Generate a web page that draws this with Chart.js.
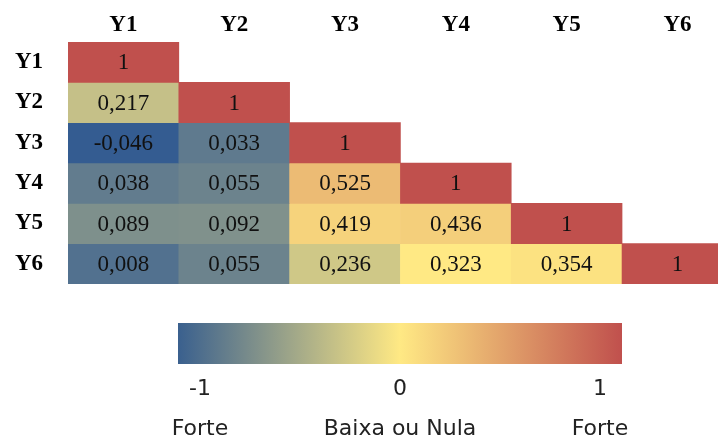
<!DOCTYPE html>
<html><head><meta charset="utf-8">
<script src="https://cdn.jsdelivr.net/npm/chart.js@4/dist/chart.umd.min.js"></script>
<style>html,body{margin:0;padding:0;background:#fff;overflow:hidden}canvas{display:block}</style>
</head><body>
<canvas id="heat" width="718" height="300"></canvas>
<canvas id="bar" width="718" height="136"></canvas>
<script>
// ---- data ----
const variables = ['Y1','Y2','Y3','Y4','Y5','Y6'];
const corrY1 = [1];
const corrY2 = [0.217, 1];
const corrY3 = [-0.046, 0.033, 1];
const corrY4 = [0.038, 0.055, 0.525, 1];
const corrY5 = [0.089, 0.092, 0.419, 0.436, 1];
const corrY6 = [0.008, 0.055, 0.236, 0.323, 0.354, 1];
const colorbarTicks = [-1, 0, 1];
const colorbarNotes = ['Forte', 'Baixa ou Nula', 'Forte'];

const rows = [corrY1, corrY2, corrY3, corrY4, corrY5, corrY6];

// ---- colour scale (3-colour: min -> median -> max) ----
const BLUE = [52, 92, 145], YELLOW = [255, 233, 132], RED = [192, 80, 77];
const allVals = rows.flat().slice().sort((a, b) => a - b);
const vMin = allVals[0], vMax = allVals[allVals.length - 1];
const vMid = allVals[Math.floor(allVals.length / 2)];
function mix(a, b, t) { return 'rgb(' + a.map((c, i) => Math.round(c + (b[i] - c) * t)).join(',') + ')'; }
function colorFor(v) {
  if (v <= vMid) return mix(BLUE, YELLOW, (v - vMin) / (vMid - vMin));
  return mix(YELLOW, RED, (v - vMid) / (vMax - vMid));
}
function fmt(v) { return String(v).replace('.', ','); }

Chart.defaults.animation = false;

const cellText = {
  id: 'cellText',
  afterDatasetsDraw(chart) {
    const ctx = chart.ctx;
    ctx.save();
    ctx.font = '23px "Liberation Serif", "Times New Roman", serif';
    ctx.fillStyle = '#111';
    ctx.textAlign = 'center';
    ctx.textBaseline = 'middle';
    chart.data.datasets.forEach((ds, i) => {
      chart.getDatasetMeta(i).data.forEach((el, j) => {
        const p = el.getProps(['x', 'y', 'base']);
        ctx.fillText(fmt(ds.data[j].v), p.x, (p.y + p.base) / 2 + 1);
      });
    });
    ctx.restore();
  }
};

const serifBold = { family: '"Liberation Serif", "Times New Roman", serif', size: 23, weight: 'bold' };

new Chart(document.getElementById('heat'), {
  type: 'bar',
  data: {
    datasets: rows.map((row, i) => ({
      label: variables[i],
      data: row.map((v, j) => ({ x: j, y: [i - 0.5, i + 0.5], v: v })),
      backgroundColor: row.map(colorFor),
      borderWidth: 0,
      barPercentage: 1,
      categoryPercentage: 1,
      grouped: false
    }))
  },
  options: {
    responsive: false,
    devicePixelRatio: 1,
    layout: { padding: { left: 0, right: 0, top: 0, bottom: 16 } },
    plugins: { legend: { display: false }, tooltip: { enabled: false } },
    scales: {
      x: {
        type: 'linear', position: 'top', min: -0.5, max: 5.366, offset: false,
        afterBuildTicks: s => { s.ticks = variables.map((_, k) => ({ value: k })); },
        afterFit: s => { s.height = 42; s.paddingLeft = 0; s.paddingRight = 0; },
        grid: { display: false, drawTicks: false, tickLength: 0 }, border: { display: false },
        ticks: { callback: v => variables[v], maxRotation: 0, autoSkip: false, padding: 3, color: '#000', font: serifBold }
      },
      y: {
        type: 'linear', reverse: true, min: -0.5, max: 5.5, offset: false,
        afterBuildTicks: s => { s.ticks = variables.map((_, k) => ({ value: k })); },
        afterFit: s => { s.width = 68; s.paddingTop = 0; s.paddingBottom = 0; },
        grid: { display: false, drawTicks: false, tickLength: 0 }, border: { display: false },
        ticks: { callback: v => variables[v], autoSkip: false, padding: 25, color: '#000', font: serifBold }
      }
    }
  },
  plugins: [cellText]
});

// ---- colour bar ----
new Chart(document.getElementById('bar'), {
  type: 'bar',
  data: {
    labels: [''],
    datasets: [{
      data: [[-1.11, 1.11]],
      backgroundColor: ctx => {
        const a = ctx.chart.chartArea;
        if (!a) return '#ccc';
        const g = ctx.chart.ctx.createLinearGradient(a.left, 0, a.right, 0);
        g.addColorStop(0, 'rgb(58,96,142)');
        g.addColorStop(0.5, mix(YELLOW, YELLOW, 0));
        g.addColorStop(1, mix(RED, RED, 0));
        return g;
      },
      borderWidth: 0,
      barPercentage: 1,
      categoryPercentage: 1
    }]
  },
  options: {
    indexAxis: 'y',
    responsive: false,
    devicePixelRatio: 1,
    layout: { padding: { left: 178, right: 96, top: 23, bottom: 0 } },
    plugins: { legend: { display: false }, tooltip: { enabled: false } },
    scales: {
      y: { display: false },
      x: {
        type: 'linear', min: -1.11, max: 1.11,
        afterBuildTicks: s => { s.ticks = colorbarTicks.map(v => ({ value: v })); },
        afterFit: s => { s.height = 72; },
        grid: { display: false }, border: { display: false },
        ticks: {
          callback: (v) => [String(v), colorbarNotes[colorbarTicks.indexOf(v)]],
          maxRotation: 0, autoSkip: false, padding: -3,
          color: '#222', font: { family: '"DejaVu Sans", sans-serif', size: 22, lineHeight: '40px' }
        }
      }
    }
  }
});
</script>
</body></html>
